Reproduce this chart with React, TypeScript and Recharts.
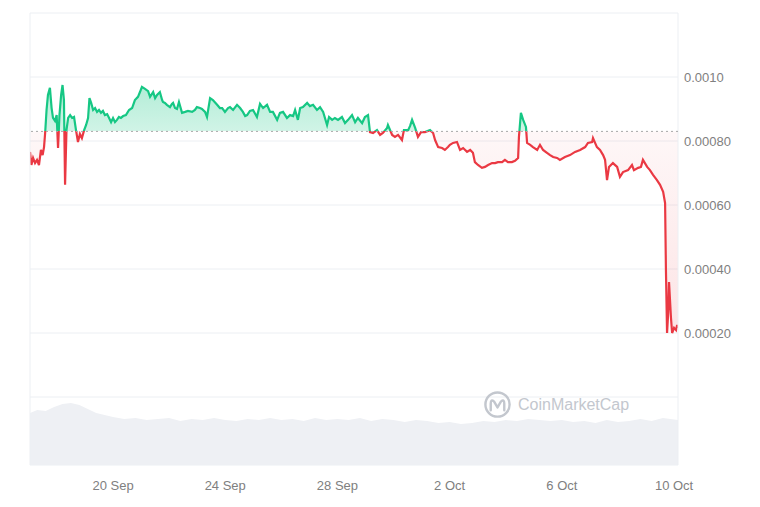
import React from "react";
import {
  ComposedChart,
  Area,
  XAxis,
  YAxis,
  CartesianGrid,
  ReferenceLine,
} from "recharts";

// time axis: day of September (2 Oct = 32, 10 Oct = 40)
const times = [
  17.04, 17.09, 17.15, 17.22, 17.29, 17.36, 17.43, 17.49, 17.54, 17.58,
  17.63, 17.68, 17.75, 17.81, 17.86, 17.93, 17.99, 18.04, 18.09, 18.15,
  18.2, 18.25, 18.29, 18.34, 18.4, 18.47, 18.54, 18.61, 18.68, 18.75,
  18.82, 18.89, 18.97, 19.04, 19.11, 19.16, 19.22, 19.29, 19.36, 19.43,
  19.5, 19.57, 19.64, 19.71, 19.79, 19.86, 19.93, 20.0, 20.07, 20.14,
  20.21, 20.28, 20.36, 20.46, 20.57, 20.68, 20.78, 20.89, 20.96, 21.03,
  21.14, 21.25, 21.32, 21.43, 21.5, 21.57, 21.67, 21.75, 21.78, 21.85,
  21.92, 22.03, 22.1, 22.14, 22.21, 22.28, 22.35, 22.46, 22.57, 22.67,
  22.82, 22.92, 22.99, 23.1, 23.17, 23.28, 23.35, 23.46, 23.56, 23.71,
  23.81, 23.89, 23.99, 24.1, 24.17, 24.28, 24.42, 24.53, 24.63, 24.71,
  24.78, 24.88, 24.99, 25.13, 25.24, 25.35, 25.49, 25.6, 25.7, 25.85,
  25.95, 26.06, 26.2, 26.31, 26.42, 26.49, 26.59, 26.67, 26.77, 26.92,
  27.02, 27.13, 27.27, 27.38, 27.49, 27.63, 27.7, 27.81, 27.91, 28.02,
  28.16, 28.27, 28.38, 28.52, 28.63, 28.73, 28.88, 28.98, 29.09, 29.16,
  29.27, 29.41, 29.52, 29.62, 29.77, 29.8, 29.95, 30.05, 30.16, 30.3,
  30.37, 30.52, 30.59, 30.66, 30.77, 30.87, 30.98, 31.12, 31.3, 31.41,
  31.48, 31.59, 31.73, 31.83, 31.94, 32.01, 32.12, 32.26, 32.37, 32.48,
  32.62, 32.73, 32.83, 32.9, 33.01, 33.15, 33.26, 33.37, 33.51, 33.62,
  33.72, 33.87, 33.97, 34.08, 34.22, 34.33, 34.44, 34.47, 34.54, 34.62,
  34.72, 34.76, 34.87, 34.97, 35.12, 35.22, 35.33, 35.47, 35.58, 35.69,
  35.83, 35.93, 36.11, 36.29, 36.47, 36.65, 36.83, 36.93, 37.08, 37.11,
  37.25, 37.36, 37.47, 37.54, 37.61, 37.68, 37.82, 37.97, 38.07, 38.18,
  38.36, 38.5, 38.57, 38.72, 38.82, 38.89, 39.04, 39.14, 39.25, 39.39,
  39.5, 39.61, 39.68, 39.71, 39.75, 39.79, 39.82, 39.89, 39.93, 40.0,
  40.07, 40.11, 40.14,
];

const prices = [
  0.000766, 0.000725, 0.000747, 0.000731, 0.000741, 0.000725, 0.000772, 0.000756, 0.000781, 0.000825,
  0.000897, 0.000944, 0.000966, 0.000903, 0.000872, 0.000863, 0.000881, 0.000778, 0.000881, 0.000944,
  0.000975, 0.000928, 0.000663, 0.000834, 0.000872, 0.000881, 0.000872, 0.000875, 0.000834, 0.000797,
  0.000822, 0.000809, 0.000834, 0.00085, 0.000872, 0.000934, 0.000919, 0.000897, 0.000903, 0.000891,
  0.000897, 0.000888, 0.000894, 0.000881, 0.000884, 0.000872, 0.000859, 0.000872, 0.000859, 0.000866,
  0.000875, 0.000872, 0.000878, 0.000881, 0.000897, 0.000903, 0.000928, 0.000938, 0.000953, 0.000969,
  0.000963, 0.000956, 0.000938, 0.000953, 0.000934, 0.000944, 0.000953, 0.000928, 0.000922, 0.000919,
  0.000913, 0.000906, 0.000916, 0.000919, 0.000903, 0.0009, 0.000922, 0.000888, 0.000891, 0.000894,
  0.000891, 0.000897, 0.000906, 0.000903, 0.0009, 0.000891, 0.000875, 0.000934, 0.000928, 0.000913,
  0.000903, 0.000903, 0.000891, 0.000903, 0.000906, 0.000897, 0.000913, 0.000903, 0.000891, 0.000878,
  0.000881, 0.000894, 0.000897, 0.000875, 0.000916, 0.000903, 0.000913, 0.000891, 0.000891, 0.000866,
  0.000888, 0.000891, 0.000872, 0.000881, 0.000878, 0.000897, 0.000866, 0.000903, 0.000906, 0.000919,
  0.000909, 0.000913, 0.000897, 0.000906, 0.000891, 0.00085, 0.000875, 0.000866, 0.000872, 0.000866,
  0.000875, 0.000856, 0.000866, 0.000881, 0.000859, 0.000872, 0.000856, 0.000875, 0.000881, 0.000828,
  0.000825, 0.000834, 0.000819, 0.000825, 0.000841, 0.00085, 0.000819, 0.000813, 0.000819, 0.000803,
  0.000834, 0.000834, 0.000847, 0.000866, 0.000841, 0.000813, 0.000828, 0.000828, 0.000834, 0.000825,
  0.000803, 0.000781, 0.000778, 0.000772, 0.000781, 0.000788, 0.000794, 0.000797, 0.000772, 0.000778,
  0.000766, 0.000772, 0.000763, 0.000734, 0.000725, 0.000716, 0.000719, 0.000725, 0.000731, 0.000731,
  0.000734, 0.000734, 0.000741, 0.000734, 0.000734, 0.000738, 0.000747, 0.000813, 0.000888, 0.000866,
  0.000844, 0.000794, 0.000788, 0.000781, 0.000772, 0.000788, 0.000772, 0.000763, 0.000756, 0.00075,
  0.000747, 0.000741, 0.00075, 0.000756, 0.000766, 0.000772, 0.000781, 0.000794, 0.000797, 0.000809,
  0.000781, 0.000772, 0.000756, 0.000741, 0.000678, 0.000719, 0.000731, 0.000719, 0.000688, 0.000703,
  0.000709, 0.000725, 0.000709, 0.000716, 0.000719, 0.000741, 0.000719, 0.000709, 0.000694, 0.000678,
  0.000663, 0.000641, 0.000606, 0.000397, 0.0002, 0.000263, 0.000359, 0.000247, 0.0002, 0.000216,
  0.000209, 0.000225, 0.000216,
];

// volume (relative units)
const volTimes = [
  17.04, 17.3, 17.6, 17.9, 18.2, 18.5, 18.8, 19.1, 19.4, 19.7,
  20.0, 20.4, 20.8, 21.2, 21.6, 22.0, 22.4, 22.8, 23.2, 23.6,
  24.0, 24.4, 24.8, 25.2, 25.6, 26.0, 26.4, 26.8, 27.2, 27.6,
  28.0, 28.4, 28.8, 29.2, 29.6, 30.0, 30.4, 30.8, 31.2, 31.6,
  32.0, 32.4, 32.8, 33.2, 33.6, 34.0, 34.4, 34.8, 35.2, 35.6,
  36.0, 36.4, 36.8, 37.2, 37.6, 38.0, 38.4, 38.8, 39.2, 39.6,
  40.14,
];
const volumes = [
  52, 55, 54, 58, 61, 62, 60, 56, 52, 50,
  48, 46, 47, 45, 46, 47, 44, 46, 45, 47,
  45, 44, 46, 45, 47, 45, 46, 44, 47, 45,
  46, 45, 47, 44, 46, 45, 43, 45, 44, 42,
  43, 41, 42, 44, 43, 45, 44, 46, 45, 44,
  45, 43, 44, 42, 45, 43, 44, 46, 44, 47,
  45,
];

const baseline = 0.00083;

const dayTicks = [20, 24, 28, 32, 36, 40];
const dayLabels = ["20 Sep", "24 Sep", "28 Sep", "2 Oct", "6 Oct", "10 Oct"];

const priceTicks = [0, 0.0002, 0.0004, 0.0006, 0.0008, 0.001, 0.0012];
const priceLabels = ["", "0.00020", "0.00040", "0.00060", "0.00080", "0.0010", ""];

const priceDomain: [number, number] = [-0.0002125, 0.0012];

const W = 760;
const H = 507;
const TOP = 13;
const BOTTOM = 465;

const rows = [
  ...times.map((t, i) => ({ t, price: prices[i] as number | null, volume: null as number | null })),
  ...volTimes.map((t, i) => ({ t, price: null as number | null, volume: volumes[i] as number | null })),
].sort((a, b) => a.t - b.t);

const tickStyle = { fontFamily: "'Liberation Sans', Arial, sans-serif", fontSize: 13, fill: "#808080" };

export default function App() {
  const split =
    (priceDomain[1] - baseline) / (priceDomain[1] - priceDomain[0]);
  const green = "#16c784";
  const red = "#ea3943";

  return (
    <div style={{ position: "absolute", left: 0, top: 0, width: W, height: H, background: "#fff" }}>
      <ComposedChart
        width={W}
        height={H}
        data={rows}
        margin={{ top: TOP, right: 0, bottom: 0, left: 30 }}
      >
        <defs>
          <linearGradient id="priceStroke" x1="0" y1={TOP} x2="0" y2={BOTTOM} gradientUnits="userSpaceOnUse">
            <stop offset={split} stopColor={green} />
            <stop offset={split} stopColor={red} />
          </linearGradient>
          <linearGradient id="priceFill" x1="0" y1={TOP} x2="0" y2={BOTTOM} gradientUnits="userSpaceOnUse">
            <stop offset={0.1} stopColor={green} stopOpacity={0.4} />
            <stop offset={split} stopColor={green} stopOpacity={0.2} />
            <stop offset={split} stopColor={red} stopOpacity={0.04} />
            <stop offset={0.72} stopColor={red} stopOpacity={0.14} />
          </linearGradient>
        </defs>
        <CartesianGrid yAxisId="price" vertical={false} stroke="#eceff3" />
        <XAxis
          dataKey="t"
          type="number"
          domain={[17.04, 40.14]}
          ticks={dayTicks}
          tickFormatter={(v: number) => dayLabels[dayTicks.indexOf(v)] ?? ""}
          axisLine={false}
          tickLine={false}
          tickSize={0}
          tickMargin={16}
          height={42}
          tick={tickStyle}
          allowDataOverflow
        />
        <YAxis
          yAxisId="price"
          orientation="right"
          type="number"
          domain={priceDomain}
          ticks={priceTicks}
          tickFormatter={(v: number) => priceLabels[priceTicks.indexOf(v)] ?? ""}
          axisLine={false}
          tickLine={false}
          tickSize={0}
          tickMargin={6}
          width={82}
          tick={tickStyle}
          allowDataOverflow
        />
        <YAxis yAxisId="vol" hide domain={[0, 452]} />
        <Area
          yAxisId="vol"
          dataKey="volume"
          type="linear"
          stroke="none"
          fill="#eef0f4"
          fillOpacity={1}
          connectNulls
          dot={false}
          activeDot={false}
          isAnimationActive={false}
        />
        <ReferenceLine yAxisId="price" x={17.04} stroke="#eceff3" />
        <ReferenceLine yAxisId="price" x={40.14} stroke="#eceff3" />
        <ReferenceLine yAxisId="price" y={baseline} stroke="#a8a8a8" strokeDasharray="2 3" />
        <Area
          yAxisId="price"
          dataKey="price"
          type="linear"
          baseValue={baseline}
          stroke="url(#priceStroke)"
          strokeWidth={2.2}
          fill="url(#priceFill)"
          fillOpacity={1}
          connectNulls
          dot={false}
          activeDot={false}
          isAnimationActive={false}
        />
      </ComposedChart>
      <div
        style={{
          position: "absolute",
          left: 483,
          top: 390,
          display: "flex",
          alignItems: "center",
          gap: 6,
          color: "#c3c7ce",
          fontFamily: "'Liberation Sans', Arial, sans-serif",
          fontSize: 16,
          fontWeight: 400,
          pointerEvents: "none",
        }}
      >
        <svg width={29} height={29} viewBox="-15 -15 30 30">
          <circle r={12.5} fill="none" stroke="#c3c7ce" strokeWidth={2.5} />
          <path
            d="M-7 6 L-7 -1 Q-7 -6 -3.5 -3 L0 3 L3.5 -3 Q7 -6 7 -1 L7 6"
            fill="none"
            stroke="#c3c7ce"
            strokeWidth={2.5}
            strokeLinejoin="round"
            strokeLinecap="round"
          />
        </svg>
        <span>CoinMarketCap</span>
      </div>
    </div>
  );
}
